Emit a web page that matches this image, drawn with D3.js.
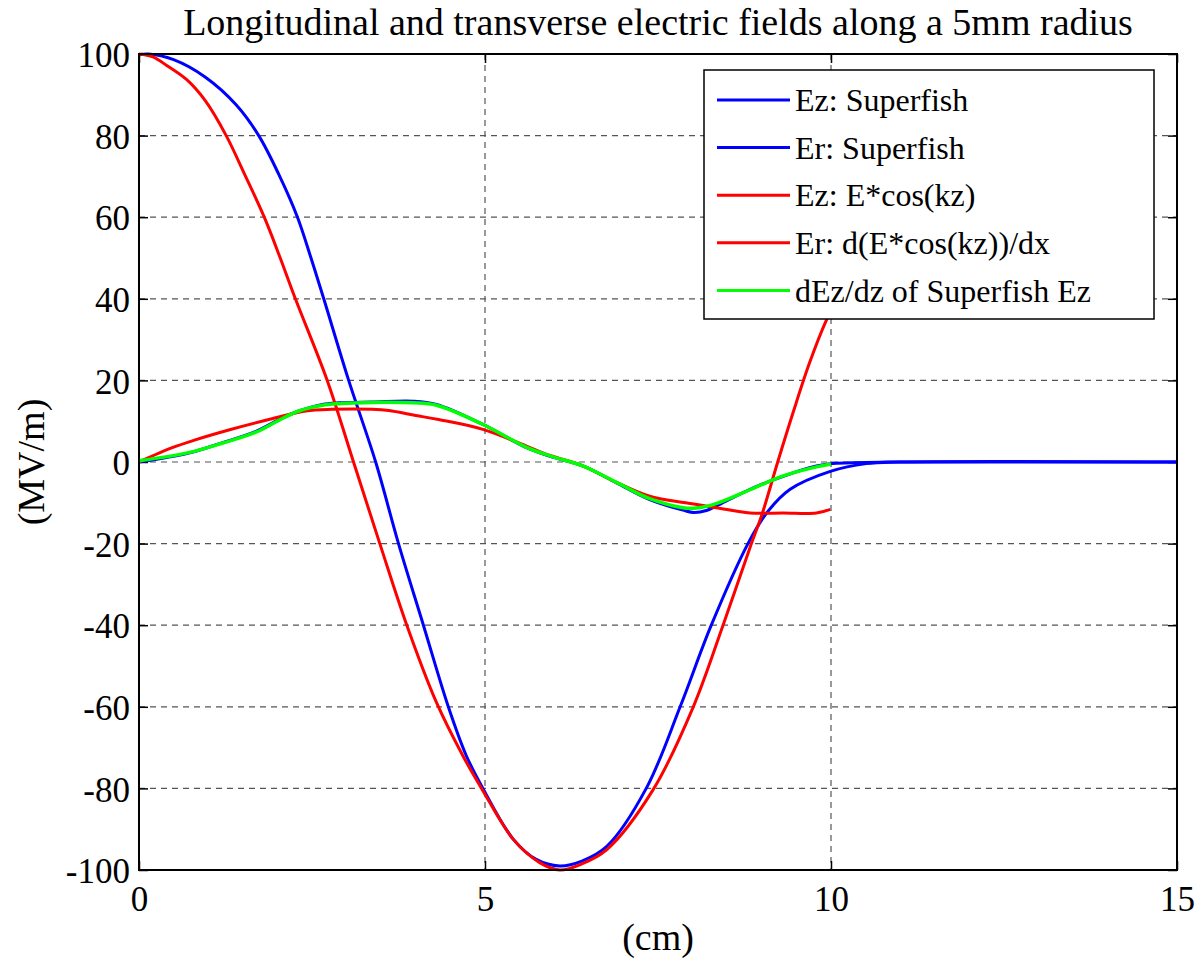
<!DOCTYPE html>
<html>
<head>
<meta charset="utf-8">
<script src="https://cdn.jsdelivr.net/npm/d3@7"></script>
<style>
  body { margin: 0; background: #fff; }
  svg { display: block; font-family: "Liberation Serif", "Times New Roman", serif; }
</style>
</head>
<body>
<script>
// values (z in cm, field in MV/m)
var ezSfZ = [0, 0.14, 0.5, 0.96, 1.40, 1.73, 2.02, 2.29, 2.48, 2.67, 3.03, 3.42, 3.75, 4.11, 4.47, 4.73, 4.97, 5.41, 5.74, 6.08, 6.40, 6.76, 7.33, 7.82, 8.27, 8.80, 9.07, 9.41, 9.99, 10.51, 11, 15]
var ezSfV = [99.8, 100, 98.6, 94.3, 87.6, 80, 70.5, 60, 50.3, 40, 20, 0, -20, -40, -60, -72, -80, -92.5, -97.4, -99, -97.8, -94.2, -80, -60, -40, -20, -12.5, -6.7, -2.3, -0.4, 0, 0]

var erSfZ = [0, 0.72, 1.20, 1.69, 2.02, 2.31, 2.65, 2.89, 3.37, 3.96, 4.30, 4.97, 5.60, 5.94, 6.42, 6.90, 7.38, 7.86, 8.02, 8.20, 8.34, 8.83, 9.31, 9.79, 9.99, 10.3, 10.7, 11, 15]
var erSfV = [0, 2.2, 4.7, 7.5, 10.4, 12.5, 14.1, 14.5, 14.7, 14.9, 14.1, 9.2, 3.5, 1.4, -1, -5.1, -9.2, -11.8, -12.4, -11.9, -10.8, -6.7, -3.5, -1, -0.4, -0.2, -0.05, 0, 0]

var ezCosZ = [0, 0.2, 0.4, 0.69, 0.96, 1.26, 1.54, 1.81, 2.03, 2.26, 2.72, 3.10, 3.48, 3.87, 4.30, 4.68, 4.95, 5.41, 5.79, 6.08, 6.40, 6.76, 7.43, 8.01, 8.44, 8.85, 9.00, 9.23, 9.45, 9.69, 9.94, 10]
var ezCosV = [100, 99.3, 97.2, 93.7, 88.5, 80, 70, 60, 50.5, 40, 20, 0, -20, -40, -59, -72, -80, -92.5, -98.2, -100, -98.5, -95, -80.3, -60, -40, -20, -13, 0, 12, 24.3, 35, 37]

var erCosZ = [0, 0.48, 0.79, 1.31, 1.92, 2.41, 2.79, 3.37, 3.61, 4.0, 4.33, 4.97, 5.60, 5.94, 6.42, 6.90, 7.38, 7.90, 8.34, 8.83, 9.31, 9.79, 9.99]
var erCosV = [0, 3.5, 5.3, 7.9, 10.6, 12.5, 12.9, 12.9, 12.6, 11.4, 10.4, 8.0, 3.9, 1.6, -1, -5, -8.4, -10, -11.2, -12.5, -12.5, -12.5, -11.6]

var dEzZ = [0, 0.72, 1.20, 1.69, 2.02, 2.31, 2.65, 2.89, 3.37, 3.96, 4.30, 4.97, 5.60, 5.94, 6.42, 6.90, 7.38, 7.86, 8.05, 8.34, 8.83, 9.31, 9.79, 10]
var dEzV = [0.3, 2.3, 4.6, 7.3, 10.2, 12.5, 13.9, 14.3, 14.6, 14.5, 13.9, 9.2, 3.6, 1.5, -1, -5, -9, -11.2, -11.3, -10.2, -6.8, -3.4, -1.2, -0.5]

var xTicks = [0, 5, 10, 15]
var yTicks = [-100, -80, -60, -40, -20, 0, 20, 40, 60, 80, 100]
var legendLabels = ["Ez: Superfish", "Er: Superfish", "Ez: E*cos(kz)", "Er: d(E*cos(kz))/dx", "dEz/dz of Superfish Ez"]
var seriesColors = ["#0000ff", "#0000ff", "#ff0000", "#ff0000", "#00ff00"]

var width = 1196, height = 960
var margin = {top: 54, right: 19, bottom: 90, left: 139}
var plotW = width - margin.left - margin.right
var plotH = height - margin.top - margin.bottom

var svg = d3.select("body").append("svg")
  .attr("width", width)
  .attr("height", height)

var x = d3.scaleLinear().domain([0, 15]).range([0, plotW])
var y = d3.scaleLinear().domain([-100, 100]).range([plotH, 0])

var g = svg.append("g").attr("transform", `translate(${margin.left},${margin.top})`)

// dashed grid
g.append("g").selectAll("line").data(yTicks.slice(1, -1)).join("line")
  .attr("x1", 0).attr("x2", plotW)
  .attr("y1", d => y(d)).attr("y2", d => y(d))
  .attr("stroke", "#555").attr("stroke-width", 1.2)
  .attr("stroke-dasharray", "6,5")
g.append("g").selectAll("line").data(xTicks.slice(1, -1)).join("line")
  .attr("y1", 0).attr("y2", plotH)
  .attr("x1", d => x(d)).attr("x2", d => x(d))
  .attr("stroke", "#555").attr("stroke-width", 1.2)
  .attr("stroke-dasharray", "6,5")

// axes: ticks inside, labels outside (plain hyphen for minus, like matlab)
var fmt = d => String(d)
var xAxis = g.append("g").attr("transform", `translate(0,${plotH})`)
  .call(d3.axisBottom(x).tickValues(xTicks).tickSize(-9).tickPadding(16).tickFormat(fmt))
var yAxis = g.append("g")
  .call(d3.axisLeft(y).tickValues(yTicks).tickSize(-9).tickPadding(9).tickFormat(fmt))
g.append("g")
  .call(d3.axisTop(x).tickValues(xTicks).tickSize(-9).tickFormat(""))
g.append("g").attr("transform", `translate(${plotW},0)`)
  .call(d3.axisRight(y).tickValues(yTicks).tickSize(-9).tickFormat(""))

g.selectAll(".domain").remove()
g.selectAll(".tick line").attr("stroke", "#000").attr("stroke-width", 1.5)
g.selectAll(".tick text")
  .attr("fill", "#000")
  .style("font-family", "Liberation Serif")
  .style("font-size", "35px")
xAxis.selectAll(".tick text").attr("dy", "0.71em")
yAxis.selectAll(".tick text").attr("dy", "0.36em")

// curves
var series = [
  {z: ezSfZ, v: ezSfV},
  {z: erSfZ, v: erSfV},
  {z: ezCosZ, v: ezCosV},
  {z: erCosZ, v: erCosV},
  {z: dEzZ, v: dEzV}
]
var line = d3.line()
  .x(d => x(d[0]))
  .y(d => y(d[1]))
  .curve(d3.curveCatmullRom.alpha(0.5))

series.forEach(function(s, i){
  g.append("path")
    .datum(s.z.map((z, k) => [z, s.v[k]]))
    .attr("d", line)
    .attr("fill", "none")
    .attr("stroke", seriesColors[i])
    .attr("stroke-width", i == 4 ? 3.5 : 3)
    .attr("stroke-linejoin", "round")
})

// box
g.append("rect")
  .attr("width", plotW).attr("height", plotH)
  .attr("fill", "none").attr("stroke", "#000").attr("stroke-width", 2)

// legend
var legend = svg.append("g").attr("transform", "translate(704,70)")
legend.append("rect")
  .attr("width", 450).attr("height", 249)
  .attr("fill", "#fff").attr("stroke", "#000").attr("stroke-width", 1.5)
var rows = legend.selectAll("g.row").data(legendLabels).join("g")
  .attr("class", "row")
  .attr("transform", (d, i) => `translate(0,${30 + i * 47.6})`)
rows.append("line")
  .attr("x1", 13).attr("x2", 86)
  .attr("stroke", (d, i) => seriesColors[i]).attr("stroke-width", 3)
rows.append("text")
  .attr("x", 91).attr("dy", "0.35em")
  .style("font-size", "32px")
  .text(d => d)

// titles
svg.append("text")
  .attr("x", margin.left + plotW / 2).attr("y", 35)
  .attr("text-anchor", "middle")
  .style("font-size", "38px")
  .text("Longitudinal and transverse electric fields along a 5mm radius")
svg.append("text")
  .attr("x", margin.left + plotW / 2).attr("y", 950)
  .attr("text-anchor", "middle")
  .style("font-size", "38px")
  .text("(cm)")
svg.append("text")
  .attr("transform", `translate(44,${margin.top + plotH / 2}) rotate(-90)`)
  .attr("text-anchor", "middle")
  .style("font-size", "38px")
  .text("(MV/m)")
</script>
</body>
</html>
